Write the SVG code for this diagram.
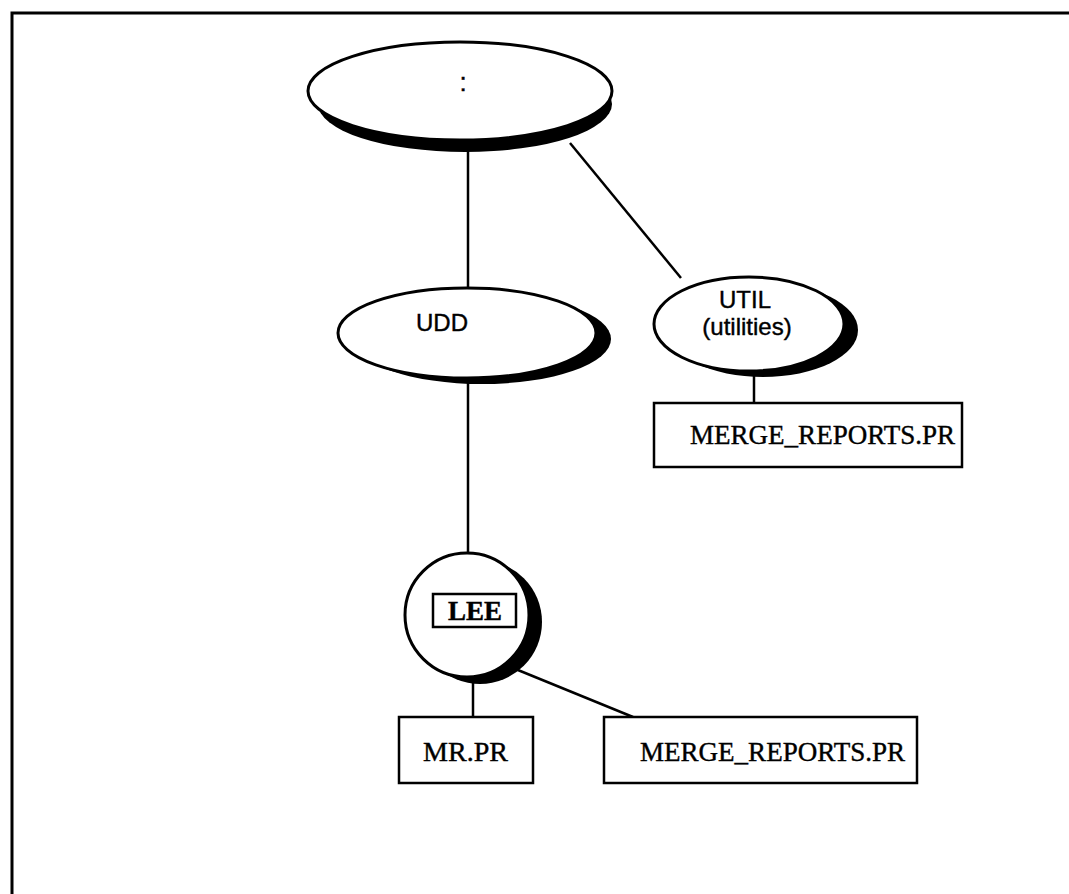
<svg xmlns="http://www.w3.org/2000/svg" width="1069" height="894" viewBox="0 0 1069 894">
<style>
.frame{stroke:#000;stroke-width:3;fill:none}
.conn line{stroke:#000;stroke-width:2.5}
.shadow{fill:#000;stroke:none}
.node{fill:#fff;stroke:#000;stroke-width:3}
.box{fill:#fff;stroke:#000;stroke-width:2.5}
.sans{font-family:"Liberation Sans",Arial,sans-serif;font-size:24px;fill:#000;text-anchor:middle;stroke:#000;stroke-width:0.4}
.serif{font-family:"Liberation Serif","Times New Roman",serif;font-size:28px;fill:#000;stroke:#000;stroke-width:0.4}
</style>
<rect width="1069" height="894" fill="#fff"/>
<path class="frame" d="M12 894 V13 H1069"/>
<g id="connectors" class="conn">
<line x1="468" y1="150" x2="468" y2="290"/>
<line x1="570" y1="143" x2="681" y2="278"/>
<line x1="468" y1="380" x2="468" y2="555"/>
<line x1="754" y1="375" x2="754" y2="403"/>
<line x1="473" y1="680" x2="473" y2="717"/>
<line x1="513" y1="668" x2="633" y2="717"/>
</g>
<g id="root">
<ellipse class="shadow" cx="465" cy="104" rx="147" ry="48"/>
<ellipse class="node" cx="460" cy="91" rx="152" ry="49"/>
<text class="sans" x="463" y="91" style="font-size:26px">:</text>
</g>
<g id="udd">
<ellipse class="shadow" cx="482" cy="339" rx="129" ry="45"/>
<ellipse class="node" cx="467" cy="333" rx="129" ry="45"/>
<text class="sans" x="442" y="331">UDD</text>
</g>
<g id="util">
<ellipse class="shadow" cx="763" cy="330" rx="95" ry="47"/>
<ellipse class="node" cx="749" cy="324" rx="95" ry="47"/>
<text class="sans" x="745" y="308">UTIL</text>
<text class="sans" x="747" y="335">(utilities)</text>
</g>
<g id="util-merge">
<rect class="box" x="654" y="403" width="308" height="64"/>
<text class="serif" x="690" y="444" textLength="265" lengthAdjust="spacingAndGlyphs">MERGE_REPORTS.PR</text>
</g>
<g id="lee">
<circle class="shadow" cx="480" cy="622" r="62"/>
<circle class="node" cx="467" cy="615" r="62"/>
<rect class="box" x="433" y="594" width="83" height="33"/>
<text class="serif" x="475" y="620" text-anchor="middle" font-weight="bold" style="font-size:27px">LEE</text>
</g>
<g id="mrpr">
<rect class="box" x="399" y="717" width="134" height="66"/>
<text class="serif" x="423" y="761" textLength="85" lengthAdjust="spacingAndGlyphs">MR.PR</text>
</g>
<g id="lee-merge">
<rect class="box" x="604" y="717" width="313" height="66"/>
<text class="serif" x="640" y="761" textLength="265" lengthAdjust="spacingAndGlyphs">MERGE_REPORTS.PR</text>
</g>
</svg>
